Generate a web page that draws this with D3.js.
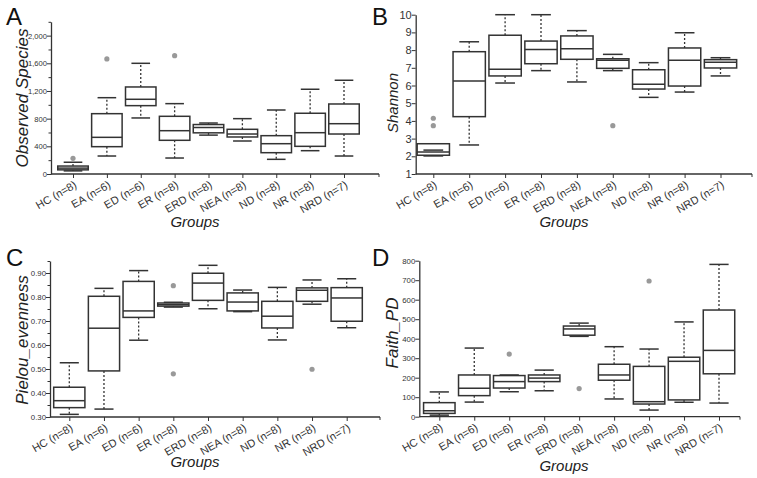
<!DOCTYPE html>
<html><head><meta charset="utf-8">
<script src="https://cdn.jsdelivr.net/npm/d3@7"></script>
<style>
body{margin:0;background:#fff;}
svg{display:block;font-family:"Liberation Sans",Arial,sans-serif;}
</style></head>
<body>
<svg id="chart" width="757" height="478"></svg>
<script>
const categories = ["HC (n=8)","EA (n=6)","ED (n=6)","ER (n=8)","ERD (n=8)","NEA (n=8)","ND (n=8)","NR (n=8)","NRD (n=7)"];

// Panel A: Observed Species
const aLow  = [45, 260, 810, 231, 562, 477, 212, 337, 260];
const aQ1   = [60, 395, 988, 487, 595, 535, 308, 400, 578];
const aMed  = [85, 530, 1080, 626, 672, 578, 438, 597, 727];
const aQ3   = [115, 872, 1258, 834, 715, 646, 554, 878, 1012];
const aHigh = [170, 1103, 1600, 1017, 737, 800, 925, 1225, 1355];
const aOut  = [[0, 227], [1, 1663], [3, 1711]];
const aTicks = [0, 400, 800, 1200, 1600, 2000];

// Panel B: Shannon
const bLow  = [2.02, 2.64, 6.14, 6.84, 6.20, 6.84, 5.33, 5.63, 6.54];
const bQ1   = [2.06, 4.24, 6.54, 7.23, 7.48, 6.97, 5.80, 5.97, 6.99];
const bMed  = [2.24, 6.25, 6.92, 8.04, 8.08, 7.42, 6.07, 7.42, 7.31];
const bQ3   = [2.71, 7.91, 8.84, 8.51, 8.80, 7.51, 6.89, 8.12, 7.46];
const bHigh = [2.35, 8.47, 10.0, 10.0, 9.10, 7.76, 7.29, 8.98, 7.57];
const bOut  = [[0, 4.15], [0, 3.73], [5, 3.73]];
const bTicks = [1, 2, 3, 4, 5, 6, 7, 8, 9, 10];

// Panel C: Pielou_evenness
const cLow  = [0.311, 0.333, 0.620, 0.758, 0.751, 0.739, 0.621, 0.770, 0.672];
const cQ1   = [0.339, 0.492, 0.715, 0.762, 0.786, 0.742, 0.671, 0.782, 0.699];
const cMed  = [0.368, 0.670, 0.742, 0.768, 0.858, 0.779, 0.720, 0.828, 0.796];
const cQ3   = [0.424, 0.803, 0.865, 0.775, 0.899, 0.817, 0.782, 0.838, 0.839];
const cHigh = [0.526, 0.836, 0.910, 0.778, 0.932, 0.829, 0.840, 0.871, 0.876];
const cOut  = [[3, 0.847], [3, 0.480], [7, 0.499]];
const cTicks = [0.30, 0.40, 0.50, 0.60, 0.70, 0.80, 0.90];

// Panel D: Faith_PD
const dLow  = [8, 75, 128, 133, 412, 91, 34, 74, 70];
const dQ1   = [17, 108, 147, 180, 418, 187, 65, 86, 220];
const dMed  = [30, 146, 180, 198, 450, 214, 77, 284, 340];
const dQ3   = [72, 214, 211, 214, 465, 269, 258, 305, 547];
const dHigh = [127, 352, 214, 239, 480, 359, 347, 486, 781];
const dOut  = [[2, 321], [4, 144], [6, 696]];
const dTicks = [0, 100, 200, 300, 400, 500, 600, 700, 800];

const svg = d3.select("#chart");
const INK = "#333";

function panel(cfg) {
  const g = svg.append("g");
  const y = d3.scaleLinear().domain(cfg.domain).range([cfg.y0, cfg.y1]);
  const x = d3.scalePoint().domain(categories).range([cfg.xFirst, cfg.xLast]);
  const step = x.step();
  const bw = step * 0.9, cw = step * 0.55;

  if (cfg.minor) {
    g.append("g").attr("transform", `translate(${cfg.ax},0)`)
      .call(d3.axisLeft(y).tickValues(cfg.minor).tickSize(2.5).tickFormat(""))
      .call(s => { s.select(".domain").remove(); s.selectAll("line").attr("stroke", INK); });
  }
  const ya = g.append("g").attr("transform", `translate(${cfg.ax},0)`)
    .call(d3.axisLeft(y).tickValues(cfg.ticks).tickSize(4).tickSizeOuter(0).tickFormat(cfg.fmt));
  ya.select(".domain").attr("stroke", INK).attr("stroke-width", 1.3);
  ya.selectAll(".tick line").attr("stroke", INK);
  ya.selectAll(".tick text").attr("fill", INK).attr("font-size", cfg.tickFont).attr("x", -4);

  const xa = g.append("g").attr("transform", `translate(0,${cfg.y0})`)
    .call(d3.axisBottom(x).tickSize(4).tickSizeOuter(0));
  xa.select(".domain").remove();
  xa.selectAll(".tick line").attr("stroke", INK);
  xa.selectAll(".tick text").attr("fill", INK).attr("font-size", 11)
    .attr("text-anchor", "end").attr("dy", 0).attr("y", 0)
    .attr("transform", "translate(4,13) rotate(-30)");
  g.append("line").attr("x1", cfg.ax).attr("x2", cfg.axEnd).attr("y1", cfg.y0).attr("y2", cfg.y0)
    .attr("stroke", INK).attr("stroke-width", 1.3);
  g.append("line").attr("x1", cfg.axEnd).attr("x2", cfg.axEnd).attr("y1", cfg.y0).attr("y2", cfg.y0 + 3)
    .attr("stroke", INK);

  const idx = d3.range(categories.length);
  const bx = g.selectAll("g.box").data(idx).join("g").attr("class", "box");
  bx.each(function(i) {
    const s = d3.select(this);
    const cx = x(categories[i]);
    if (cfg.high[i] > cfg.q3[i])
      s.append("line").attr("x1", cx).attr("x2", cx).attr("y1", y(cfg.q3[i])).attr("y2", y(cfg.high[i]))
        .attr("stroke", INK).attr("stroke-width", 1.3).attr("stroke-dasharray", "2,2");
    if (cfg.low[i] < cfg.q1[i])
      s.append("line").attr("x1", cx).attr("x2", cx).attr("y1", y(cfg.q1[i])).attr("y2", y(cfg.low[i]))
        .attr("stroke", INK).attr("stroke-width", 1.3).attr("stroke-dasharray", "2,2");
    s.append("rect").attr("x", cx - bw / 2).attr("width", bw)
      .attr("y", y(cfg.q3[i])).attr("height", Math.max(0.5, y(cfg.q1[i]) - y(cfg.q3[i])))
      .attr("fill", "#fff").attr("stroke", INK).attr("stroke-width", 1.5);
    [cfg.high[i], cfg.low[i]].forEach(v => {
      s.append("line").attr("x1", cx - cw / 2).attr("x2", cx + cw / 2).attr("y1", y(v)).attr("y2", y(v))
        .attr("stroke", INK).attr("stroke-width", 1.5);
    });
    s.append("line").attr("x1", cx - bw / 2).attr("x2", cx + bw / 2)
      .attr("y1", y(cfg.med[i])).attr("y2", y(cfg.med[i]))
      .attr("stroke", INK).attr("stroke-width", 1.5);
  });
  g.selectAll("circle.out").data(cfg.out).join("circle").attr("class", "out")
    .attr("cx", d => x(categories[d[0]])).attr("cy", d => y(d[1])).attr("r", 2.6)
    .attr("fill", "#999");

  g.append("text").attr("transform", `translate(${cfg.titleX},${cfg.titleY}) rotate(-90)`)
    .attr("text-anchor", "middle").attr("font-style", "italic").attr("font-size", cfg.titleFont)
    .attr("fill", "#222").text(cfg.title);
  g.append("text").attr("x", cfg.groupsX).attr("y", cfg.groupsY).attr("text-anchor", "middle")
    .attr("font-style", "italic").attr("font-size", 15).attr("fill", "#222").text("Groups");
  g.append("text").attr("x", cfg.letterX).attr("y", cfg.letterY).attr("font-size", 24)
    .attr("fill", "#111").text(cfg.letter);
}

panel({letter: "A", letterX: 6, letterY: 25, title: "Observed Species", titleX: 28, titleY: 98, titleFont: 17,
  domain: [0, 2200], y0: 174, y1: 21.8, ax: 51, axEnd: 379, xFirst: 73, xLast: 344,
  ticks: aTicks, minor: d3.range(200, 2201, 400), fmt: d3.format(","), tickFont: 7.6,
  low: aLow, q1: aQ1, med: aMed, q3: aQ3, high: aHigh, out: aOut, groupsX: 195, groupsY: 227});

panel({letter: "B", letterX: 372, letterY: 25, title: "Shannon", titleX: 398, titleY: 103, titleFont: 15,
  domain: [1, 10], y0: 174, y1: 14.7, ax: 415.7, axEnd: 752, xFirst: 433.3, xLast: 720.5,
  ticks: bTicks, minor: null, fmt: d3.format("d"), tickFont: 11,
  low: bLow, q1: bQ1, med: bMed, q3: bQ3, high: bHigh, out: bOut, groupsX: 564, groupsY: 227});

panel({letter: "C", letterX: 6, letterY: 266, title: "Pielou_evenness", titleX: 28, titleY: 340, titleFont: 17,
  domain: [0.30, 0.95], y0: 417, y1: 261, ax: 50, axEnd: 380, xFirst: 69.3, xLast: 346.7,
  ticks: cTicks, minor: [0.35, 0.45, 0.55, 0.65, 0.75, 0.85, 0.95], fmt: d3.format(".2f"), tickFont: 7.8,
  low: cLow, q1: cQ1, med: cMed, q3: cQ3, high: cHigh, out: cOut, groupsX: 195, groupsY: 467});

panel({letter: "D", letterX: 372, letterY: 266, title: "Faith_PD", titleX: 398, titleY: 333, titleFont: 17,
  domain: [0, 800], y0: 416.7, y1: 260.7, ax: 419.3, axEnd: 740, xFirst: 439.3, xLast: 719,
  ticks: dTicks, minor: null, fmt: d3.format("d"), tickFont: 7.8,
  low: dLow, q1: dQ1, med: dMed, q3: dQ3, high: dHigh, out: dOut, groupsX: 564, groupsY: 471});
</script>
</body></html>
